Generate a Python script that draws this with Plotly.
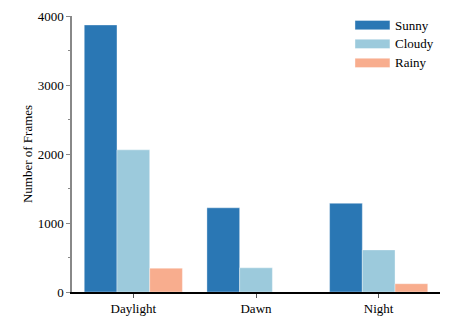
import plotly.graph_objects as go

categories = ["Daylight", "Dawn", "Night"]
sunny = [3870, 1220, 1285]
cloudy = [2060, 350, 610]
rainy = [345, 0, 120]
series_names = ["Sunny", "Cloudy", "Rainy"]
colors = ["#2a77b4", "#9ccadc", "#f8ad8e"]

FONT = "Liberation Serif, Times New Roman, serif"

fig = go.Figure()
for name, vals, col in zip(series_names, [sunny, cloudy, rainy], colors):
    fig.add_trace(go.Bar(x=categories, y=vals, name=name,
                         marker=dict(color=col, line=dict(color="rgba(255,255,255,0.35)", width=1))))

# custom legend (wide colour boxes)
leg_y = [0.967, 0.899, 0.830]
for name, col, yc in zip(series_names, colors, leg_y):
    fig.add_shape(type="rect", xref="paper", yref="paper", x0=0.769, x1=0.864,
                  y0=yc - 0.017, y1=yc + 0.017, fillcolor=col,
                  line=dict(color="rgba(255,255,255,0.4)", width=1))
    fig.add_annotation(xref="paper", yref="paper", x=0.872, y=yc, text=name,
                       showarrow=False, xanchor="left", yanchor="middle",
                       font=dict(family=FONT, size=13, color="black"))

fig.update_layout(
    width=457, height=319,
    margin=dict(l=72, r=17, t=16, b=27, autoexpand=False),
    paper_bgcolor="white", plot_bgcolor="white",
    font=dict(family=FONT, size=13, color="black"),
    barmode="group", bargap=0.2, bargroupgap=0,
    showlegend=False,
)
fig.update_xaxes(showline=True, linecolor="black", linewidth=1.5, ticks="outside",
                 ticklen=4, tickcolor="#555", range=[-0.5, 2.5], showgrid=False,
                 tickfont=dict(family=FONT, size=13), automargin=False)
fig.update_yaxes(showline=True, linecolor="#888", linewidth=1.5, ticks="outside",
                 ticklen=4, tickcolor="#888", range=[0, 4000], dtick=1000, showgrid=False,
                 zeroline=False, automargin=False,
                 tickfont=dict(family=FONT, size=13),
                 title=dict(text="Number of Frames", standoff=2, font=dict(family=FONT, size=13)),
                 minor=dict(ticks="outside", ticklen=2, dtick=500, tickcolor="#888"))

fig.write_html("out.html", config={"displayModeBar": False},
               post_script="document.body.style.margin='0';document.body.style.overflow='hidden';")
